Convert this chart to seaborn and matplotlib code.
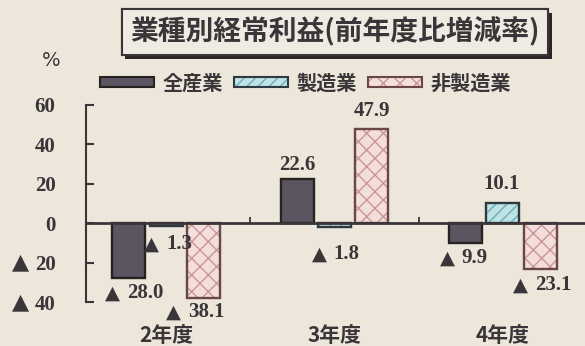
import numpy as np
import pandas as pd
import matplotlib
matplotlib.use("Agg")
import matplotlib.pyplot as plt
import matplotlib.patheffects as pe
from matplotlib.patches import Patch
from matplotlib.legend_handler import HandlerTuple
from matplotlib.offsetbox import TextArea, HPacker, AnnotationBbox
import seaborn as sns

# ---------------- data ----------------
years = ["2年度", "3年度", "4年度"]
industries = ["全産業", "製造業", "非製造業"]
all_industry = [-28.0, 22.6, -9.9]
manufacturing = [-1.3, -1.8, 10.1]
non_manufacturing = [-38.1, 47.9, -23.1]
yticks = [-40, -20, 0, 20, 40, 60]
ytick_labels = ["40", "20", "0", "20", "40", "60"]
neg_mark = "▲"
title = "業種別経常利益(前年度比増減率)"
unit = "%"

# ---------------- style ----------------
bg = "#ede6da"
ink = "#3a3538"
fill_colors = ["#5a5561", "#bfe2e3", "#f3dedb"]
hatch_colors = ["#5a5561", "#6aaec0", "#c99696"]
edge_colors = ["#26221f", "#2f3a40", "#6a4646"]
hatches = ["", "///", "xx"]
# label offsets in pixels (dx, dy) per industry, per year
label_offsets = [
    [(5, -15), (0, 14), (-2, -15.5)],
    [(2, -18.5), (1, -27.5), (-1, 19)],
    [(-8, -14), (0, 18), (2, -16.5)],
]

sns.set_style("ticks", {"xtick.direction": "in", "ytick.direction": "in"})
plt.rcParams["hatch.linewidth"] = 1.0
cjk = ["Noto Sans CJK JP", "DejaVu Sans"]
num_font = ["Liberation Serif", "DejaVu Sans"]
plt.rcParams["font.family"] = cjk

df = pd.DataFrame({
    "year": years * 3,
    "industry": np.repeat(industries, len(years)),
    "value": all_industry + manufacturing + non_manufacturing,
})

W, H = 585, 346
ax_left, ax_right, ax_top, ax_bottom = 86, 585, 105, 302
fig = plt.figure(figsize=(W / 100, H / 100), dpi=100, facecolor=bg)
ax = fig.add_axes([ax_left / W, 1 - ax_bottom / H,
                   (ax_right - ax_left) / W, (ax_bottom - ax_top) / H])
ax.set_facecolor(bg)

sns.barplot(data=df, x="year", y="value", hue="industry", order=years,
            hue_order=industries, palette=fill_colors, saturation=1,
            width=0.66, gap=0.11, linewidth=0, errorbar=None,
            legend=False, ax=ax)
fill_containers = list(ax.containers)
for cont, h, hc in zip(fill_containers, hatches, hatch_colors):
    for bar in cont:
        bar.set_hatch(h)
        bar.set_edgecolor(hc)
        bar.set_linewidth(0)

sns.barplot(data=df, x="year", y="value", hue="industry", order=years,
            hue_order=industries, palette=edge_colors, saturation=1,
            width=0.66, gap=0.11, fill=False, linewidth=1.7, errorbar=None,
            legend=False, ax=ax)

num_props = dict(size=15, weight="bold", family=num_font, color=ink)
tri_props = dict(size=14, family=["DejaVu Sans"], color=ink)

# value labels
for i, cont in enumerate(fill_containers):
    for j, bar in enumerate(cont):
        v = bar.get_height()
        x = bar.get_x() + bar.get_width() / 2
        parts = []
        if v < 0:
            parts.append(TextArea(neg_mark, textprops=tri_props))
        parts.append(TextArea(f"{abs(v):.1f}", textprops=num_props))
        pack = HPacker(children=parts, align="baseline", pad=0, sep=5)
        ab = AnnotationBbox(pack, (x, v), xybox=label_offsets[i][j],
                            boxcoords="offset pixels", frameon=False,
                            box_alignment=(0.5, 0.5), annotation_clip=False)
        ax.add_artist(ab)

# axes
ax.set_xlabel("")
ax.set_ylabel("")
ax.set_xlim(-0.475, 2.487)
ax.set_ylim(-40, 60)
for s in ["top", "right"]:
    ax.spines[s].set_visible(False)
ax.spines["bottom"].set_position(("data", 0))
ax.spines["bottom"].set_linewidth(2)
ax.spines["bottom"].set_color(ink)
ax.spines["left"].set_linewidth(1.5)
ax.spines["left"].set_color(ink)

ax.set_xticks(range(len(years)), years)
ax.set_xticks([k + 0.5 for k in range(len(years) - 1)], minor=True)
ax.xaxis.set_tick_params(which="major", bottom=True, length=0, pad=73,
                         labelsize=15, labelcolor=ink)
ax.xaxis.set_tick_params(which="minor", bottom=True, direction="in",
                         length=4, width=1.3, color=ink)
for lab in ax.get_xticklabels():
    lab.set_fontweight("bold")

ax.set_yticks(yticks, ytick_labels)
ax.yaxis.set_tick_params(which="major", left=True, direction="in", length=5.5,
                         width=1.5, color=ink, pad=22, labelsize=15,
                         labelcolor=ink)
for lab in ax.get_yticklabels():
    lab.set_family(num_font)
    lab.set_fontweight("bold")
# negative marks in front of the negative tick labels
ytrans = ax.get_yaxis_transform()
for yv in yticks:
    if yv < 0:
        ax.text((21 - ax_left) / (ax_right - ax_left), yv, neg_mark,
                transform=ytrans, ha="center", va="center",
                fontsize=16, family=["DejaVu Sans"], color=ink, clip_on=False)

# legend
handles = [
    (Patch(facecolor=fc, edgecolor=hc, hatch=h, linewidth=0),
     Patch(facecolor="none", edgecolor=ec, linewidth=1.5))
    for fc, hc, h, ec in zip(fill_colors, hatch_colors, hatches, edge_colors)
]
leg = fig.legend(handles, industries, ncol=3, loc="center left",
                 bbox_to_anchor=(100 / W, 1 - 83 / H), frameon=False,
                 borderpad=0, borderaxespad=0, handlelength=2.7,
                 handleheight=0.4, handletextpad=0.4, columnspacing=0.55,
                 handler_map={tuple: HandlerTuple(ndivide=1)},
                 prop={"family": cjk, "weight": "bold", "size": 14.5})
for t in leg.get_texts():
    t.set_color(ink)

# unit
fig.text(51 / W, 1 - 60 / H, unit, ha="center", va="center",
         fontsize=14, color=ink, family=["DejaVu Sans"])

# title box with shadow
t = fig.text(335 / W, 1 - 32 / H, title, ha="center", va="center",
             fontsize=20, fontweight="bold", color=ink,
             bbox=dict(boxstyle="square,pad=0.3", fc="#f0ebe2", ec=ink, lw=1.5))
t.get_bbox_patch().set_path_effects([
    pe.withSimplePatchShadow(offset=(2.5, -3), shadow_rgbFace="#2b2628", alpha=1.0),
    pe.Normal(),
])

fig.savefig("out.png", dpi=100, facecolor=bg)
